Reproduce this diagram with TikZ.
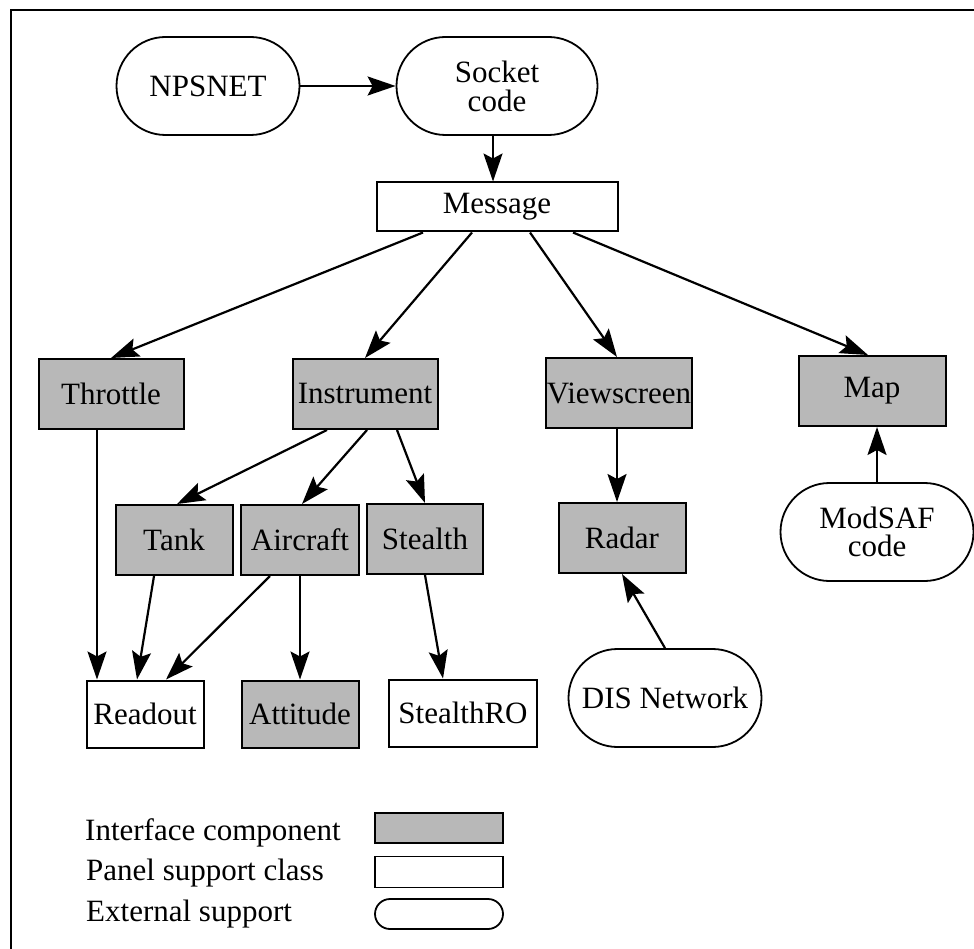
\documentclass[tikz,border=0pt]{standalone}
\usepackage{fontspec}
\setmainfont{Liberation Serif}
\usetikzlibrary{arrows.meta}
\begin{document}
\begin{tikzpicture}[x=1pt,y=-1pt,
  every node/.style={font=\fontsize{31}{33}\selectfont, inner sep=0pt, text=black},
  comp/.style={draw, line width=2pt, fill=black!28, minimum height=70pt},
  support/.style={draw, line width=2pt, fill=white, minimum height=67pt},
  extern/.style={draw, line width=1.8pt, rounded corners=49pt, minimum width=193pt, minimum height=98pt, align=center},
  conn/.style={line width=2.2pt, -{Stealth[length=28pt,width=19pt,inset=5pt]}},
  legtext/.style={anchor=west},
]
\useasboundingbox (0,0) rectangle (974,949);
% outer frame
\draw[line width=1.6pt] (11,949) -- (11,10) -- (974,10);

% external sources and the message hub
\node[extern, minimum width=183pt] (npsnet) at (208,86) {NPSNET};
\node[extern, minimum width=201pt] (socket) at (497,86) {Socket\\[-4pt]code};
\node[draw, line width=2pt, minimum width=241pt, minimum height=49pt] (msg) at (497,207) {Message};

% interface components
\node[comp, minimum width=145pt] (throttle) at (111,394) {Throttle};
\node[comp, minimum width=145pt] (instr) at (365,394) {Instrument};
\node[comp, minimum width=146pt] (view) at (619,393) {Viewscreen};
\node[comp, minimum width=147pt] (map) at (872,391) {Map};
\node[comp, minimum width=117pt] (tank) at (174,540) {Tank};
\node[comp, minimum width=118pt] (aircraft) at (300,540) {Aircraft};
\node[comp, minimum width=116pt] (stealth) at (425,539) {Stealth};
\node[comp, minimum width=127pt] (radar) at (622,538) {Radar};
\node[extern] (modsaf) at (877,532) {ModSAF\\[-5pt]code};

% panel support classes
\node[support, minimum width=117pt] (readout) at (145,714) {Readout};
\node[comp, minimum width=117pt, minimum height=67pt] (attitude) at (300,714) {Attitude};
\node[support, minimum width=148pt] (stealthro) at (463,713) {StealthRO};
\node[extern] (dis) at (665,698) {DIS Network};

% connectors
\draw[conn] (npsnet.east) -- (socket.west);
\draw[conn] ([xshift=-4pt]socket.south) -- ([xshift=-4pt]msg.north);
\draw[conn] ([xshift=-74pt]msg.south) -- (throttle.north);
\draw[conn] ([xshift=-25pt]msg.south) -- (instr.north);
\draw[conn] ([xshift=33pt]msg.south) -- ([xshift=-2pt]view.north);
\draw[conn] ([xshift=76pt]msg.south) -- ([xshift=-4pt]map.north);
\draw[conn] ([xshift=-38pt]instr.south) -- ([xshift=3pt]tank.north);
\draw[conn] ([xshift=2pt]instr.south) -- ([xshift=2pt]aircraft.north);
\draw[conn] ([xshift=32pt]instr.south) -- (stealth.north);
\draw[conn] ([xshift=-14pt]throttle.south) -- ([xshift=-48pt]readout.north);
\draw[conn] ([xshift=-20pt]tank.south) -- ([xshift=-8pt]readout.north);
\draw[conn] ([xshift=-30pt]aircraft.south) -- ([xshift=21pt]readout.north);
\draw[conn] (aircraft.south) -- (attitude.north);
\draw[conn] (stealth.south) -- ([xshift=-20pt]stealthro.north);
\draw[conn] ([xshift=-2pt]view.south) -- ([xshift=-5pt]radar.north);
\draw[conn] (dis.north) -- (radar.south);
\draw[conn] (modsaf.north) -- ([xshift=5pt]map.south);

% legend
\node[legtext] (lg1) at (85,833) {Interface component};
\node[legtext] (lg2) at (86,873) {Panel support class};
\node[legtext] (lg3) at (86,914) {External support};
\node[draw, line width=1.8pt, fill=black!28, minimum width=128pt, minimum height=30pt] (key1) at (439,828) {};
\node[draw, line width=1.8pt, fill=white, minimum width=128pt, minimum height=31pt] (key2) at (439,872) {};
\node[draw, line width=1.8pt, rounded corners=15pt, minimum width=128pt, minimum height=30pt] (key3) at (439,914) {};
\end{tikzpicture}
\end{document}
